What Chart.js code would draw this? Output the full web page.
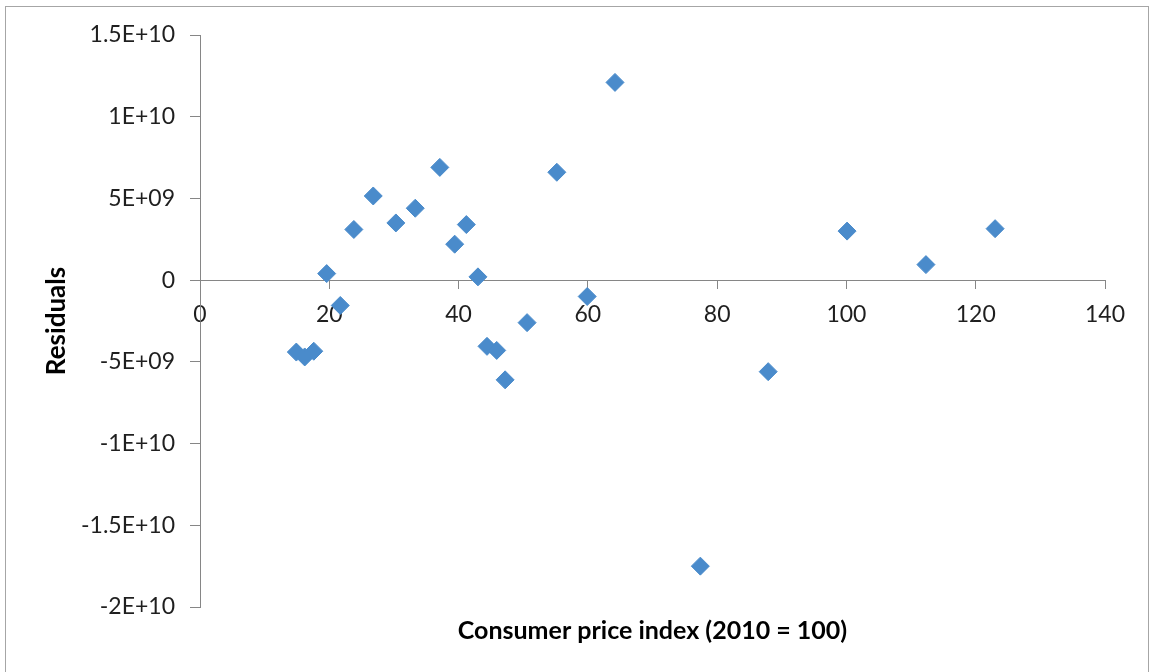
<!DOCTYPE html>
<html>
<head>
<meta charset="utf-8">
<script src="https://cdn.jsdelivr.net/npm/chart.js@4/dist/chart.umd.min.js"></script>
<style>
  html, body { margin: 0; padding: 0; background: #ffffff; }
  #wrap { position: relative; width: 1152px; height: 672px; overflow: hidden; }
  #frame { position: absolute; left: 5px; top: 6px; width: 1144px; height: 700px; border: 1.5px solid #a6a6a6; box-sizing: border-box; pointer-events: none; }
  canvas { position: absolute; left: 0; top: 0; }
</style>
</head>
<body>
<div id="wrap">
  <canvas id="c" width="1152" height="672"></canvas>
  <div id="frame"></div>
</div>
<script>
// Consumer price index (2010 = 100)
const cpiValues = [14.9, 16.2, 17.6, 19.6, 21.7, 23.8, 26.8, 30.3, 33.3, 37.1, 39.4, 41.2, 43.0, 44.4, 45.9, 47.2, 50.6, 55.2, 59.9, 64.2, 77.4, 87.9, 100.1, 112.3, 123.0];
// Residuals
const residualValues = [-4.4e9, -4.7e9, -4.35e9, 0.4e9, -1.55e9, 3.1e9, 5.15e9, 3.5e9, 4.4e9, 6.9e9, 2.2e9, 3.4e9, 0.2e9, -4.05e9, -4.3e9, -6.1e9, -2.6e9, 6.6e9, -1.0e9, 12.1e9, -17.5e9, -5.6e9, 3.0e9, 0.95e9, 3.15e9];

const xTickValues = [0, 20, 40, 60, 80, 100, 120, 140];
const xTickLabels = ['0', '20', '40', '60', '80', '100', '120', '140'];
const yTickValues = [1.5e10, 1e10, 5e9, 0, -5e9, -1e10, -1.5e10, -2e10];
const yTickLabels = ['1.5E+10', '1E+10', '5E+09', '0', '-5E+09', '-1E+10', '-1.5E+10', '-2E+10'];

const xTitle = 'Consumer price index (2010 = 100)';
const yTitle = 'Residuals';

const points = cpiValues.map((x, i) => ({ x: x, y: residualValues[i] }));

const FONT = 'Lato, "Open Sans", sans-serif';
const AXIS = '#868686';
const TEXT = '#1f1f1f';
const MARK = '#4a8bcb';

function labelFor(values, labels, v) {
  const i = values.findIndex(t => Math.abs(t - v) < 1e-6 * Math.max(1, Math.abs(t)));
  return i >= 0 ? labels[i] : '';
}

new Chart(document.getElementById('c'), {
  type: 'scatter',
  data: {
    datasets: [{
      data: points,
      pointStyle: 'rectRot',
      pointRadius: 9,
      pointHoverRadius: 9,
      backgroundColor: MARK,
      borderColor: MARK,
      borderWidth: 1
    }]
  },
  options: {
    responsive: false,
    animation: false,
    events: [],
    layout: { padding: { left: 0, top: 35, right: 47, bottom: 0 } },
    plugins: { legend: { display: false }, tooltip: { enabled: false } },
    scales: {
      x: {
        type: 'linear',
        position: { y: 0 },
        min: 0, max: 140,
        afterBuildTicks: (s) => { s.ticks = xTickValues.map(v => ({ value: v })); },
        ticks: {
          color: TEXT,
          font: { family: FONT, size: 23 },
          padding: 13,
          maxRotation: 0,
          autoSkip: false,
          callback: (v) => labelFor(xTickValues, xTickLabels, v)
        },
        grid: { drawOnChartArea: false, drawTicks: true, tickLength: 8, color: AXIS },
        border: { display: true, color: AXIS, width: 1 }
      },
      x2: {
        type: 'linear',
        axis: 'x',
        position: 'bottom',
        min: 0, max: 140,
        ticks: { display: false },
        grid: { display: false, drawTicks: false },
        border: { display: false },
        title: {
          display: true,
          text: xTitle,
          color: '#000000',
          font: { family: FONT, size: 25, weight: 'bold' },
          padding: { top: 0, bottom: 26 }
        },
        afterFit: (s) => { s.height = 65; }
      },
      y: {
        type: 'linear',
        position: 'left',
        min: -2e10, max: 1.5e10,
        afterBuildTicks: (s) => { s.ticks = yTickValues.map(v => ({ value: v })); },
        ticks: {
          color: TEXT,
          font: { family: FONT, size: 23 },
          padding: 15,
          autoSkip: false,
          callback: (v) => labelFor(yTickValues, yTickLabels, v)
        },
        grid: { drawOnChartArea: false, drawTicks: true, tickLength: 10, color: AXIS },
        border: { display: true, color: AXIS, width: 1 },
        title: {
          display: true,
          text: yTitle,
          color: '#000000',
          font: { family: FONT, size: 26, weight: 'bold' },
          padding: { top: 41, bottom: 0 }
        },
        afterFit: (s) => { s.width = 200; }
      }
    }
  }
});
</script>
</body>
</html>
